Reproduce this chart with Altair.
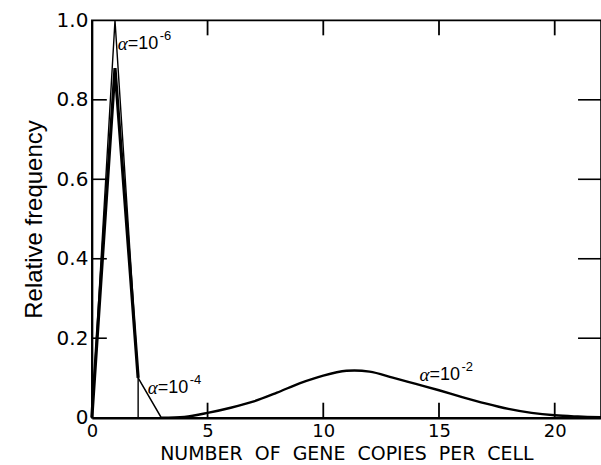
import altair as alt
import pandas as pd

# ---- data ----
# alpha = 1e-6 (thin spike)
a6_x = [0, 1, 2, 2]
a6_y = [0.0, 1.0, 0.1, 0.0]
# main peak (thick)
pk_x = [0, 1, 2]
pk_y = [0.0, 0.88, 0.10]
# alpha = 1e-4 tail (thin)
a4_x = [2, 3, 4]
a4_y = [0.10, 0.0, 0.0]
# alpha = 1e-2 broad distribution
a2_x = [3, 4, 5, 6, 7, 8, 9, 10, 11, 12, 13, 14, 15, 16, 17, 18, 19, 20, 21, 22]
a2_y = [0.0, 0.002, 0.012, 0.025, 0.041, 0.063, 0.087, 0.106, 0.118, 0.116,
        0.101, 0.085, 0.069, 0.052, 0.036, 0.022, 0.012, 0.006, 0.003, 0.001]

x_ticks = [0, 5, 10, 15, 20]
y_ticks = [0, 0.2, 0.4, 0.6, 0.8, 1.0]
inner_x_ticks = [5, 10, 15, 20]
inner_y_ticks = [0.2, 0.4, 0.6, 0.8]

lab_base = ["=10", "=10", "=10"]
lab_exp = ["-6", "-4", "-2"]
lab_x = [1.12, 2.42, 14.16]
lab_y = [0.94, 0.075, 0.107]

W, H = 510, 398
TICK = 15

xs = alt.Scale(domain=[0, 22], nice=False, zero=False)
ys = alt.Scale(domain=[0, 1], nice=False)

def df(x, y):
    return pd.DataFrame({"x": x, "y": y})

x_axis = alt.Axis(values=x_ticks, ticks=False, grid=False, labelFont="DejaVu Sans",
                  labelFontSize=18, labelPadding=5, labelColor="black", labelFlush=False,
                  domainColor="black", domainWidth=2.5,
                  title="NUMBER\u00a0\u00a0OF\u00a0\u00a0GENE\u00a0\u00a0COPIES\u00a0\u00a0PER\u00a0\u00a0CELL",
                  titleFont="DejaVu Sans", titleFontSize=19, titleFontWeight="normal",
                  titleColor="black", titlePadding=4)
y_axis = alt.Axis(values=y_ticks, ticks=False, grid=False, labelFont="DejaVu Sans",
                  labelFontSize=20, labelPadding=4, labelColor="black", labelFlush=False,
                  labelExpr="datum.value == 0 ? '0' : format(datum.value, '.1f')",
                  domainColor="black", domainWidth=2,
                  title="Relative frequency", titleFont="Liberation Sans",
                  titleFontSize=24, titleFontWeight="normal", titleColor="black",
                  titlePadding=10)

def X(f):
    return alt.X(f, scale=xs, axis=x_axis)

def Y(f):
    return alt.Y(f, scale=ys, axis=y_axis)

def line(x, y, w, interp="linear"):
    return alt.Chart(df(x, y)).mark_line(color="black", strokeWidth=w, interpolate=interp).encode(
        x=X("x:Q"), y=Y("y:Q"))

peak = line(pk_x, pk_y, 3.2)
thin6 = line(a6_x, a6_y, 1.4)
thin4 = line(a4_x, a4_y, 1.5)
broad = line(a2_x, a2_y, 2.4, "cardinal")

tx = pd.DataFrame({"x": inner_x_ticks})
ty = pd.DataFrame({"y": inner_y_ticks})

bottom_ticks = alt.Chart(tx).mark_rule(color="black", strokeWidth=1.8).encode(
    x=X("x:Q"), y=alt.value(H - TICK), y2=alt.value(H))
top_ticks = alt.Chart(tx).mark_rule(color="black", strokeWidth=1.8).encode(
    x=X("x:Q"), y=alt.value(0), y2=alt.value(TICK))
left_ticks = alt.Chart(ty).mark_rule(color="black", strokeWidth=1.6).encode(
    y=Y("y:Q"), x=alt.value(0), x2=alt.value(TICK))
right_ticks = alt.Chart(ty).mark_rule(color="black", strokeWidth=1.6).encode(
    y=Y("y:Q"), x=alt.value(W - TICK - 8), x2=alt.value(W))

lab_df = pd.DataFrame({"b": lab_base, "e": lab_exp, "x": lab_x, "y": lab_y, "a": ["α"] * 3})
lab_alpha = alt.Chart(lab_df).mark_text(
    align="left", baseline="middle", font="Liberation Serif", fontStyle="italic",
    fontSize=19, color="black").encode(x=X("x:Q"), y=Y("y:Q"), text="a:N")
lab_main = alt.Chart(lab_df).mark_text(
    align="left", baseline="middle", font="Liberation Sans", fontSize=18, color="black",
    dx=10).encode(x=X("x:Q"), y=Y("y:Q"), text="b:N")
lab_sup = alt.Chart(lab_df).mark_text(
    align="left", baseline="middle", font="Liberation Sans", fontSize=13, color="black",
    dx=42, dy=-8).encode(x=X("x:Q"), y=Y("y:Q"), text="e:N")

chart = alt.layer(
    peak, thin6, thin4, broad, bottom_ticks, top_ticks, left_ticks, right_ticks,
    lab_alpha, lab_main, lab_sup
).properties(
    width=W, height=H,
    autosize=alt.AutoSizeParams(type="none"),
    padding={"left": 92, "top": 20, "right": 0, "bottom": 47},
    background="white",
).configure_view(stroke="black", strokeWidth=1.6)

chart.save("out.html", embed_options={"renderer": "svg", "actions": False})
